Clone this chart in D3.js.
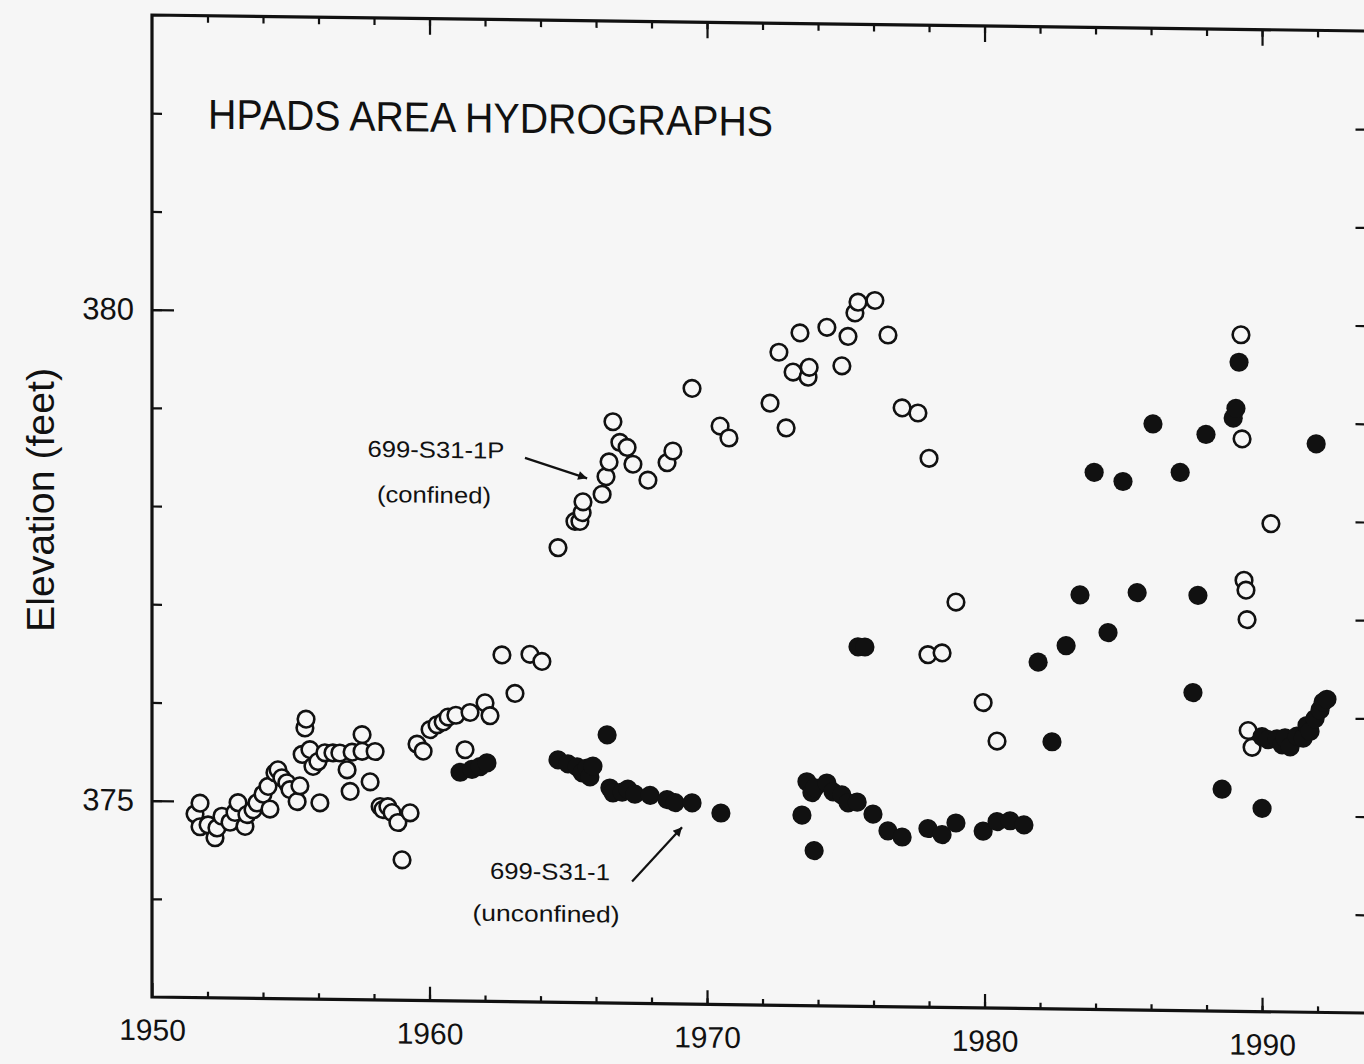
<!DOCTYPE html>
<html>
<head>
<meta charset="utf-8">
<script src="https://cdn.jsdelivr.net/npm/d3@7"></script>
<style>
  html, body { margin: 0; background: #f6f6f6; }
  svg { display: block; }
  text { font-family: "Liberation Sans", Arial, sans-serif; fill: #111; }
</style>
</head>
<body>
<div id="chart"></div>
<script>
// well 699-S31-1P (confined), [year, elevation in feet]
const confined = [
  [1951.55, 374.87], [1951.73, 374.98], [1951.73, 374.74], [1952.02, 374.76], [1952.27, 374.63],
  [1952.34, 374.73], [1952.52, 374.85], [1952.81, 374.79], [1952.99, 374.89], [1953.10, 374.99],
  [1953.35, 374.75], [1953.42, 374.87], [1953.64, 374.92], [1953.78, 374.99], [1954.00, 375.08],
  [1954.18, 375.16], [1954.25, 374.93], [1954.43, 375.30], [1954.54, 375.33], [1954.68, 375.25],
  [1954.86, 375.20], [1954.97, 375.13], [1955.23, 375.01], [1955.33, 375.17], [1955.41, 375.49],
  [1955.51, 375.76], [1955.55, 375.85], [1955.69, 375.54], [1955.80, 375.37], [1955.98, 375.42],
  [1956.05, 375.00], [1956.23, 375.51], [1956.52, 375.51], [1956.77, 375.51], [1957.03, 375.34],
  [1957.14, 375.12], [1957.21, 375.52], [1957.57, 375.70], [1957.57, 375.53], [1957.86, 375.22],
  [1958.04, 375.53], [1958.22, 374.97], [1958.32, 374.94], [1958.50, 374.97], [1958.65, 374.91],
  [1958.86, 374.81], [1959.01, 374.43], [1959.30, 374.91], [1959.55, 375.61], [1959.77, 375.54],
  [1960.02, 375.76], [1960.27, 375.81], [1960.49, 375.84], [1960.67, 375.89], [1960.95, 375.91],
  [1961.28, 375.56], [1961.46, 375.94], [1962.00, 376.04], [1962.18, 375.91], [1962.61, 376.53],
  [1963.08, 376.14], [1963.62, 376.54], [1964.05, 376.47], [1964.63, 377.63], [1965.24, 377.90],
  [1965.42, 377.90], [1965.50, 377.99], [1965.53, 378.10], [1966.22, 378.18], [1966.36, 378.36],
  [1966.47, 378.51], [1966.61, 378.92], [1966.86, 378.71], [1967.12, 378.66], [1967.33, 378.49],
  [1967.87, 378.33], [1968.56, 378.51], [1968.77, 378.63], [1969.46, 379.27], [1970.47, 378.89],
  [1970.79, 378.77], [1972.27, 379.13], [1972.59, 379.65], [1972.85, 378.88], [1973.10, 379.45],
  [1973.35, 379.85], [1973.64, 379.40], [1973.68, 379.50], [1974.32, 379.91], [1974.86, 379.52],
  [1975.08, 379.82], [1975.33, 380.06], [1975.44, 380.17], [1976.05, 380.19], [1976.52, 379.84],
  [1977.03, 379.10], [1977.60, 379.05], [1978.00, 378.59], [1977.96, 376.59], [1978.47, 376.61],
  [1978.97, 377.13], [1979.95, 376.11], [1980.45, 375.72], [1989.24, 379.89], [1989.28, 378.83],
  [1989.35, 377.39], [1989.42, 377.29], [1989.46, 376.99], [1989.50, 375.86], [1989.64, 375.69],
  [1990.32, 377.97]
];

// well 699-S31-1 (unconfined), [year, elevation in feet]
const unconfined = [
  [1961.10, 375.33], [1961.53, 375.36], [1961.82, 375.39], [1962.07, 375.43], [1964.63, 375.47],
  [1964.99, 375.43], [1965.32, 375.40], [1965.50, 375.34], [1965.68, 375.39], [1965.78, 375.30],
  [1965.89, 375.41], [1966.40, 375.73], [1966.50, 375.19], [1966.61, 375.14], [1966.94, 375.15],
  [1967.15, 375.18], [1967.40, 375.13], [1967.95, 375.12], [1968.56, 375.08], [1968.85, 375.05],
  [1969.46, 375.05], [1970.50, 374.95], [1973.42, 374.94], [1973.60, 375.28], [1973.78, 375.17],
  [1973.86, 374.58], [1973.89, 375.22], [1974.32, 375.27], [1974.54, 375.18], [1974.86, 375.15],
  [1975.08, 375.07], [1975.41, 375.08], [1975.44, 376.66], [1975.69, 376.66], [1975.98, 374.96],
  [1976.52, 374.79], [1977.03, 374.73], [1977.96, 374.82], [1978.47, 374.76], [1978.97, 374.88],
  [1979.95, 374.80], [1980.45, 374.90], [1980.92, 374.91], [1981.42, 374.87], [1981.93, 376.53],
  [1982.43, 375.72], [1982.94, 376.70], [1983.44, 377.22], [1983.95, 378.47], [1984.45, 376.84],
  [1984.99, 378.38], [1985.50, 377.25], [1986.07, 378.97], [1987.05, 378.48], [1987.51, 376.24],
  [1987.69, 377.23], [1987.98, 378.87], [1988.56, 375.26], [1988.96, 379.04], [1989.06, 379.14],
  [1989.17, 379.61], [1990.00, 375.07], [1990.00, 375.80], [1990.22, 375.77], [1990.54, 375.78],
  [1990.72, 375.72], [1990.83, 375.79], [1991.01, 375.70], [1991.26, 375.81], [1991.48, 375.79],
  [1991.62, 375.92], [1991.73, 375.86], [1991.91, 375.99], [1991.95, 378.79], [1992.09, 376.08],
  [1992.20, 376.16], [1992.34, 376.19]
];

const yearLabels = [1950, 1960, 1970, 1980, 1990];
const yearMinor = d3.range(1952, 1994, 2);
const elevLabels = [375, 380];
const elevMinor = d3.range(374, 383, 1);

const title = 'HPADS AREA HYDROGRAPHS';
const yTitle = 'Elevation (feet)';

// well labels: text lines at [year, elev], arrow from -> to
const notes = [
  {lines: ['699-S31-1P', '(confined)'], at: [[1960.23, 378.53], [1960.16, 378.07]],
   from: [1963.44, 378.54], to: [1965.68, 378.34]},
  {lines: ['699-S31-1', '(unconfined)'], at: [[1964.34, 374.25], [1964.20, 373.82]],
   from: [1967.30, 374.24], to: [1969.10, 374.80]}
];

const width = 1364, height = 1064;
const x = d3.scaleLinear().domain([1950, 1993.8]).range([152, 1367.5]);
const y = d3.scaleLinear().domain([373, 383]).range([997, 15]);

const svg = d3.select('#chart').append('svg')
    .attr('width', width)
    .attr('height', height);

svg.append('rect').attr('width', width).attr('height', height).attr('fill', '#f6f6f6');

svg.append('defs').append('marker')
    .attr('id', 'head')
    .attr('viewBox', '0 0 10 10')
    .attr('refX', 10).attr('refY', 5)
    .attr('markerWidth', 14).attr('markerHeight', 9)
    .attr('markerUnits', 'userSpaceOnUse')
    .attr('orient', 'auto')
  .append('path')
    .attr('d', 'M0,0L10,5L0,10Z')
    .attr('fill', '#111');

// the scanned page is a little sheared, so is the plot
const g = svg.append('g')
    .attr('transform', 'translate(152,0) skewY(0.756) translate(-152,0)');

function styleAxis(sel, size) {
  sel.attr('font-family', '"Liberation Sans", Arial, sans-serif')
     .attr('font-size', size);
  sel.select('.domain').remove();
  sel.selectAll('line').attr('stroke', '#111').attr('stroke-width', 2.2);
  sel.selectAll('text').attr('fill', '#111');
}

// bottom
g.append('g').attr('transform', `translate(0,${y(373)})`)
  .call(d3.axisBottom(x).tickValues(yearMinor).tickSize(-6).tickFormat(''))
  .call(styleAxis, 30);
g.append('g').attr('transform', `translate(0,${y(373)})`)
  .call(d3.axisBottom(x).tickValues(yearLabels).tickSize(-14).tickPadding(22).tickFormat(d3.format('d')))
  .call(styleAxis, 30);

// top
g.append('g').attr('transform', `translate(0,${y(383)})`)
  .call(d3.axisTop(x).tickValues(yearMinor).tickSize(-7).tickFormat(''))
  .call(styleAxis, 30);
g.append('g').attr('transform', `translate(0,${y(383)})`)
  .call(d3.axisTop(x).tickValues(yearLabels.slice(1)).tickSize(-16).tickFormat(''))
  .call(styleAxis, 30);

// left
g.append('g').attr('transform', `translate(${x(1950)},0)`)
  .call(d3.axisLeft(y).tickValues(elevMinor).tickSize(-10).tickFormat(''))
  .call(styleAxis, 31);
g.append('g').attr('transform', `translate(${x(1950)},0)`)
  .call(d3.axisLeft(y).tickValues(elevLabels).tickSize(-22).tickPadding(18).tickFormat(d3.format('d')))
  .call(styleAxis, 31);

// right
g.append('g').attr('transform', `translate(${x(1993.8)},0)`)
  .call(d3.axisRight(y).tickValues(elevMinor).tickSize(-12).tickFormat(''))
  .call(styleAxis, 31);

// frame
g.append('path')
    .attr('d', `M${x(1993.8)},${y(383)}H${x(1950)}V${y(373)}H${x(1993.8)}`)
    .attr('fill', 'none')
    .attr('stroke', '#111')
    .attr('stroke-width', 3.2);

g.append('text')
    .attr('x', 208).attr('y', 128)
    .attr('font-size', 42)
    .attr('textLength', 565)
    .attr('lengthAdjust', 'spacingAndGlyphs')
    .text(title);

svg.append('text')
    .attr('transform', 'translate(54,500) rotate(-90)')
    .attr('text-anchor', 'middle')
    .attr('font-size', 38)
    .attr('textLength', 264)
    .attr('lengthAdjust', 'spacingAndGlyphs')
    .text(yTitle);

// points
g.append('g').selectAll('circle')
  .data(confined)
  .join('circle')
    .attr('cx', d => x(d[0]))
    .attr('cy', d => y(d[1]))
    .attr('r', 8.3)
    .attr('fill', '#f6f6f6')
    .attr('stroke', '#111')
    .attr('stroke-width', 2.6);

g.append('g').selectAll('circle')
  .data(unconfined)
  .join('circle')
    .attr('cx', d => x(d[0]))
    .attr('cy', d => y(d[1]))
    .attr('r', 9.6)
    .attr('fill', '#111');

// well labels and arrows
const noteWidths = [[137, 114], [120, 147]];
notes.forEach((n, i) => {
  n.lines.forEach((t, j) => {
    g.append('text')
        .attr('x', x(n.at[j][0]))
        .attr('y', y(n.at[j][1]))
        .attr('text-anchor', 'middle')
        .attr('font-size', 23)
        .attr('textLength', noteWidths[i][j])
        .attr('lengthAdjust', 'spacingAndGlyphs')
        .text(t);
  });
  g.append('line')
      .attr('x1', x(n.from[0])).attr('y1', y(n.from[1]))
      .attr('x2', x(n.to[0])).attr('y2', y(n.to[1]))
      .attr('stroke', '#111')
      .attr('stroke-width', 2.2)
      .attr('marker-end', 'url(#head)');
});
</script>
</body>
</html>
